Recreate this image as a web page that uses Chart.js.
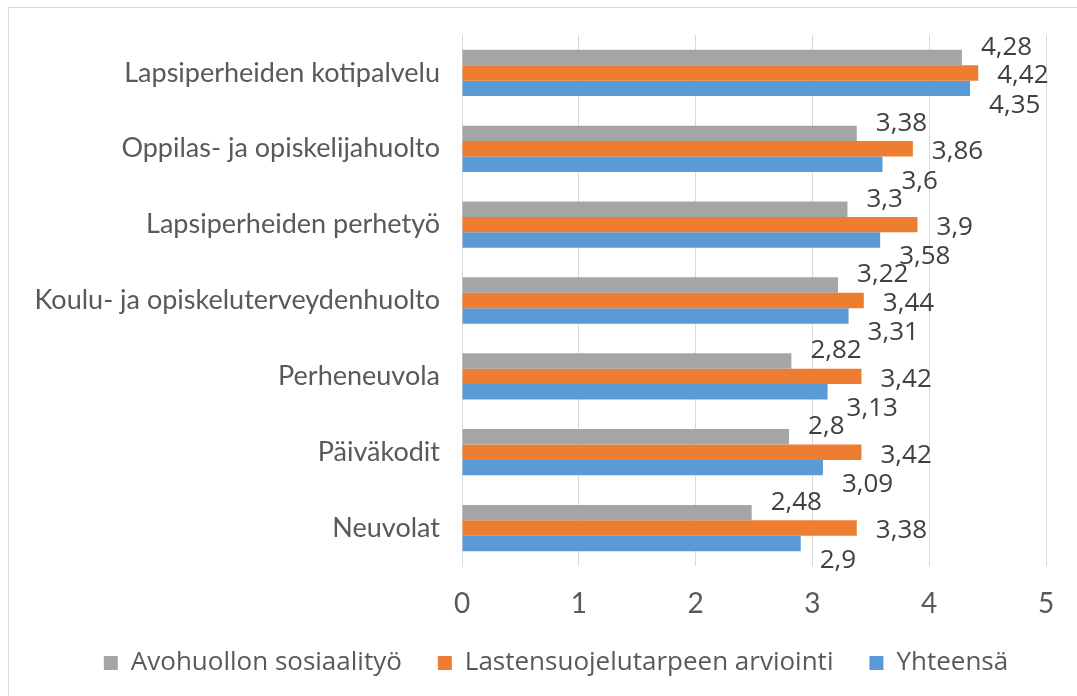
<!DOCTYPE html>
<html>
<head>
<meta charset="utf-8">
<script src="https://cdn.jsdelivr.net/npm/chart.js@4"></script>
<style>
  html, body { margin: 0; padding: 0; background: #fff; overflow: hidden; }
  #wrap { position: relative; width: 1077px; height: 696px; }
  #frame { position: absolute; left: 8px; top: 7px; width: 1100px; height: 720px; border: 1px solid #d9d9d9; box-sizing: border-box; }
  canvas { position: absolute; left: 0; top: 0; }
</style>
</head>
<body>
<div id="wrap">
  <div id="frame"></div>
  <canvas id="grafico" width="1077" height="696"></canvas>
</div>
<script>
const categories = [
  'Lapsiperheiden kotipalvelu',
  'Oppilas- ja opiskelijahuolto',
  'Lapsiperheiden perhetyö',
  'Koulu- ja opiskeluterveydenhuolto',
  'Perheneuvola',
  'Päiväkodit',
  'Neuvolat'
];
const avohuolto = [4.28, 3.38, 3.3, 3.22, 2.82, 2.8, 2.48];
const arviointi = [4.42, 3.86, 3.9, 3.44, 3.42, 3.42, 3.38];
const yhteensa = [4.35, 3.6, 3.58, 3.31, 3.13, 3.09, 2.9];
const xTicks = [0, 1, 2, 3, 4, 5];

const fontFamily = '"Open Sans", Lato, sans-serif';
const catFamily = 'Lato, "Open Sans", sans-serif';
const labelFont = '26px "Open Sans", sans-serif';
const labelOffsets = [-10, 3, 17];
const legendShift = 33;

const valueLabels = {
    id: 'valueLabels',
    afterLayout(chart) {
        // legenda hieman oikealle kuten alkuperäisessä
        chart.legend.left += legendShift;
        chart.legend.right += legendShift;
    },
    afterDatasetsDraw(chart) {
        const ctx = chart.ctx;
        ctx.save();
        ctx.font = labelFont;
        ctx.fillStyle = '#404040';
        ctx.textBaseline = 'middle';
        ctx.textAlign = 'left';
        chart.data.datasets.forEach((ds, i) => {
            const meta = chart.getDatasetMeta(i);
            meta.data.forEach((bar, j) => {
                const txt = String(ds.data[j]).replace('.', ',');
                ctx.fillText(txt, bar.x + 19, bar.y + labelOffsets[i]);
            });
        });
        ctx.restore();
    }
};

new Chart(document.getElementById('grafico'), {
    type: 'bar',
    data: {
        labels: categories,
        datasets: [
            { label: 'Avohuollon sosiaalityö', data: avohuolto, backgroundColor: '#a5a5a5' },
            { label: 'Lastensuojelutarpeen arviointi', data: arviointi, backgroundColor: '#ed7d31' },
            { label: 'Yhteensä', data: yhteensa, backgroundColor: '#5b9bd5' }
        ]
    },
    options: {
        indexAxis: 'y',
        responsive: false,
        animation: false,
        layout: { padding: { top: 35, right: 31, bottom: 10, left: 0 } },
        datasets: {
            bar: { categoryPercentage: 0.61, barPercentage: 1.0 }
        },
        scales: {
            x: {
                min: 0,
                max: 5,
                afterBuildTicks: axis => { axis.ticks = xTicks.map(v => ({ value: v })); },
                afterFit: axis => { axis.height = 48; axis.paddingRight = 0; axis.paddingLeft = 0; },
                grid: { color: '#d9d9d9', drawTicks: false },
                border: { display: false },
                ticks: { color: '#595959', font: { family: catFamily, size: 28 }, padding: 21 }
            },
            y: {
                afterFit: axis => { axis.width = 462; },
                grid: { display: false },
                border: { display: true, color: '#d9d9d9' },
                ticks: { color: '#595959', font: { family: catFamily, size: 27 }, padding: 14 }
            }
        },
        plugins: {
            legend: {
                position: 'bottom',
                labels: {
                    color: '#595959',
                    font: { family: fontFamily, size: 26 },
                    boxWidth: 14,
                    boxHeight: 14,
                    padding: 36
                }
            },
            tooltip: { enabled: false }
        }
    },
    plugins: [valueLabels]
});
</script>
</body>
</html>
